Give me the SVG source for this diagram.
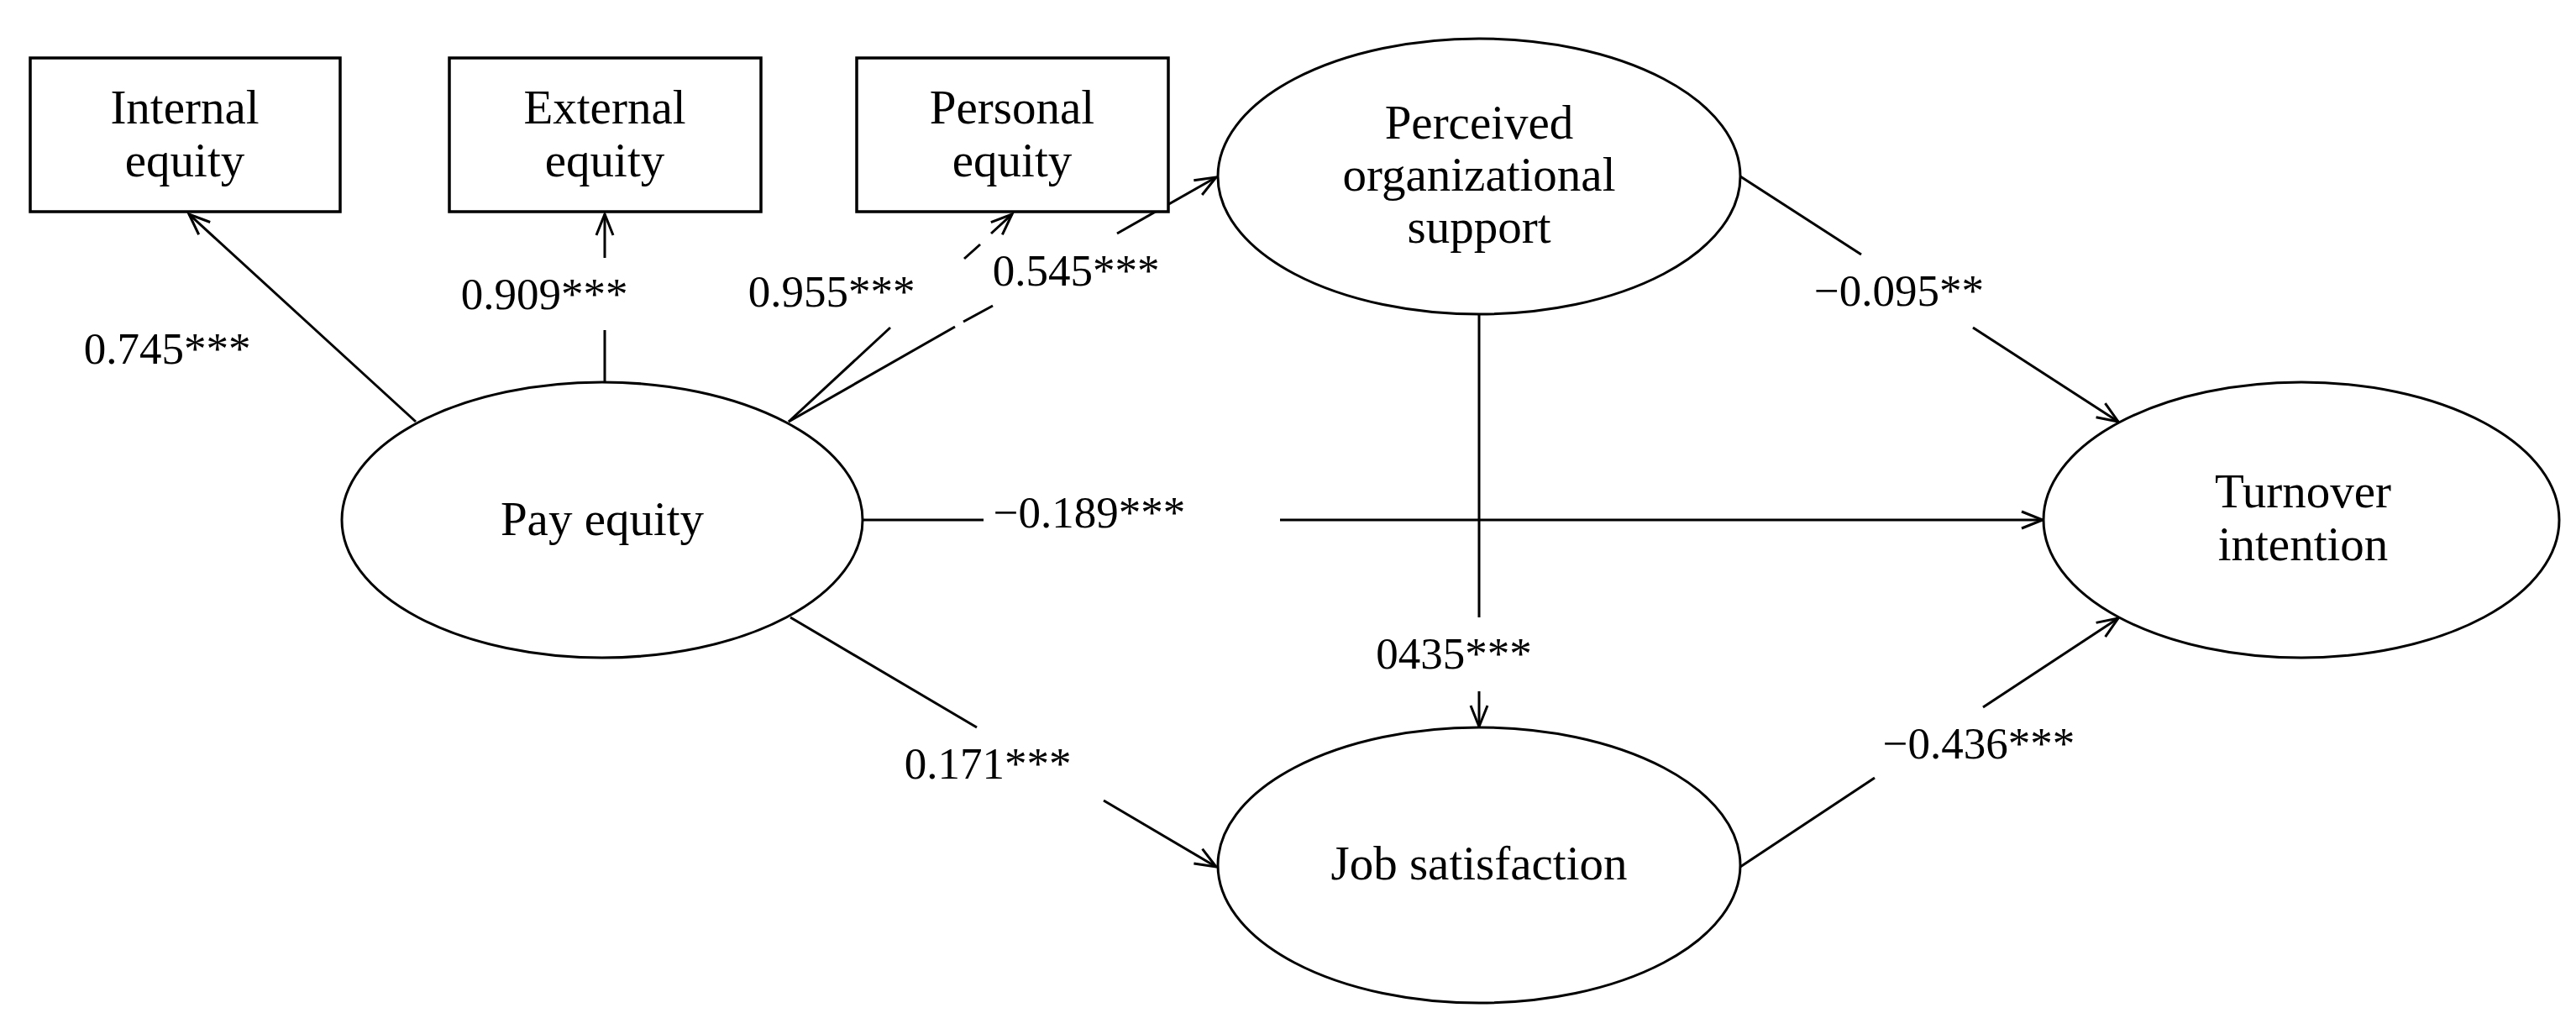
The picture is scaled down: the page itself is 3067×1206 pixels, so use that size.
<svg xmlns="http://www.w3.org/2000/svg" width="3067" height="1206" viewBox="0 0 3067 1206">
<style>
.node{fill:#fff;stroke:#000;stroke-width:3}
.box{fill:#fff;stroke:#000;stroke-width:3.5}
.t{font-family:"Liberation Serif","Times New Roman",serif;font-size:57px;fill:#000;text-anchor:middle}
.lbl{font-family:"Liberation Serif","Times New Roman",serif;font-size:53px;fill:#000;text-anchor:middle}
.c line{stroke:#000;stroke-width:3;fill:none}
</style>
<defs>
<marker id="arr" markerUnits="userSpaceOnUse" markerWidth="32" markerHeight="26" refX="27" refY="13" orient="auto">
<path d="M2,3 L27,13 L2,23" fill="none" stroke="#000" stroke-width="3"/>
</marker>
</defs>
<rect width="3067" height="1206" fill="#fff"/>

<g id="connectors" class="c">
<g id="e-pay-internal">
<line x1="495" y1="502" x2="225" y2="255" marker-end="url(#arr)"/>
</g>
<g id="e-pay-external">
<line x1="720" y1="455" x2="720" y2="393"/>
<line x1="720" y1="307" x2="720" y2="255" marker-end="url(#arr)"/>
</g>
<g id="e-pay-personal">
<line x1="939" y1="502" x2="1060" y2="390"/>
<line x1="1148" y1="308" x2="1167" y2="291"/>
<line x1="1180" y1="278" x2="1205" y2="255" marker-end="url(#arr)"/>
</g>
<g id="e-pay-pos">
<line x1="939" y1="502" x2="1137" y2="389"/>
<line x1="1147" y1="383" x2="1182" y2="364"/>
<line x1="1330" y1="278" x2="1448" y2="211" marker-end="url(#arr)"/>
</g>
<g id="e-pos-turnover">
<line x1="2072" y1="210" x2="2216" y2="303"/>
<line x1="2349" y1="390" x2="2522" y2="502" marker-end="url(#arr)"/>
</g>
<g id="e-pay-turnover">
<line x1="1027" y1="619" x2="1171" y2="619"/>
<line x1="1524" y1="619" x2="2432" y2="619" marker-end="url(#arr)"/>
</g>
<g id="e-pos-job">
<line x1="1761" y1="374" x2="1761" y2="735"/>
<line x1="1761" y1="823" x2="1761" y2="865" marker-end="url(#arr)"/>
</g>
<g id="e-pay-job">
<line x1="941" y1="735" x2="1163" y2="866"/>
<line x1="1314" y1="953" x2="1448" y2="1032" marker-end="url(#arr)"/>
</g>
<g id="e-job-turnover">
<line x1="2072" y1="1032" x2="2232" y2="926"/>
<line x1="2361" y1="842" x2="2522" y2="736" marker-end="url(#arr)"/>
</g>
</g>

<g id="labels">
<text class="lbl" x="199" y="433">0.745***</text>
<text class="lbl" x="648" y="368">0.909***</text>
<text class="lbl" x="990" y="365">0.955***</text>
<text class="lbl" x="1281" y="340">0.545***</text>
<text class="lbl" x="2261" y="364">−0.095**</text>
<text class="lbl" x="1297" y="628">−0.189***</text>
<text class="lbl" x="1731" y="796">0435***</text>
<text class="lbl" x="1176" y="927">0.171***</text>
<text class="lbl" x="2356" y="903">−0.436***</text>
</g>

<g id="internal-equity">
<rect class="box" x="36" y="69" width="369" height="183"/>
<text class="t" x="220" y="147">Internal</text>
<text class="t" x="220" y="210">equity</text>
</g>
<g id="external-equity">
<rect class="box" x="535" y="69" width="371" height="183"/>
<text class="t" x="720" y="147">External</text>
<text class="t" x="720" y="210">equity</text>
</g>
<g id="personal-equity">
<rect class="box" x="1020" y="69" width="371" height="183"/>
<text class="t" x="1205" y="147">Personal</text>
<text class="t" x="1205" y="210">equity</text>
</g>
<g id="pay-equity">
<ellipse class="node" cx="717" cy="619" rx="310" ry="164"/>
<text class="t" x="717" y="637">Pay equity</text>
</g>
<g id="pos">
<ellipse class="node" cx="1761" cy="210" rx="311" ry="164"/>
<text class="t" x="1761" y="165">Perceived</text>
<text class="t" x="1761" y="227">organizational</text>
<text class="t" x="1761" y="289">support</text>
</g>
<g id="turnover-intention">
<ellipse class="node" cx="2740" cy="619" rx="307" ry="164"/>
<text class="t" x="2742" y="604">Turnover</text>
<text class="t" x="2742" y="667">intention</text>
</g>
<g id="job-satisfaction">
<ellipse class="node" cx="1761" cy="1030" rx="311" ry="164"/>
<text class="t" x="1761" y="1047">Job satisfaction</text>
</g>
</svg>
